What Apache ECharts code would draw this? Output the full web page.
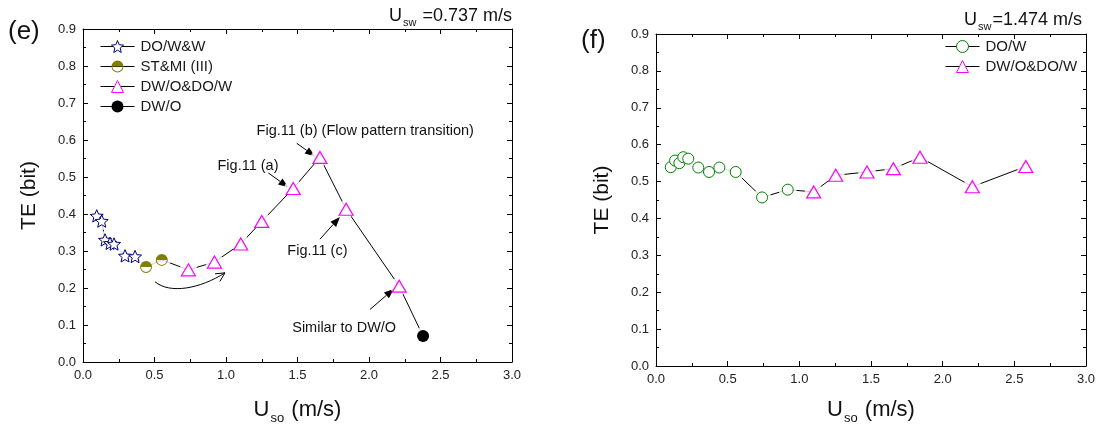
<!DOCTYPE html>
<html>
<head>
<meta charset="utf-8">
<style>
  html, body { margin: 0; padding: 0; background: #fff; }
  #chart { width: 1102px; height: 430px; }
</style>
<script src="https://cdn.jsdelivr.net/npm/echarts@6/dist/echarts.min.js"></script>
</head>
<body>
<div id="chart"></div>
<script>
// ---- (e) U_sw = 0.737 m/s ----
const eStarX = [0.096, 0.131, 0.154, 0.189, 0.217, 0.294, 0.364];
const eStarY = [0.395, 0.381, 0.330, 0.321, 0.319, 0.287, 0.285];
const eSemiX = [0.441, 0.551];
const eSemiY = [0.257, 0.276];
const eTriX = [0.737, 0.919, 1.103, 1.250, 1.470, 1.657, 1.840, 2.211];
const eTriY = [0.249, 0.270, 0.319, 0.380, 0.469, 0.553, 0.413, 0.205];
const eDwoX = [2.378];
const eDwoY = [0.070];

// ---- (f) U_sw = 1.474 m/s ----
const fCircX = [0.103, 0.133, 0.163, 0.190, 0.225, 0.295, 0.370, 0.442, 0.556, 0.740, 0.919];
const fCircY = [0.539, 0.557, 0.550, 0.566, 0.562, 0.538, 0.526, 0.538, 0.526, 0.457, 0.478];
const fTriX = [1.100, 1.254, 1.472, 1.656, 1.842, 2.207, 2.580];
const fTriY = [0.472, 0.517, 0.526, 0.535, 0.566, 0.486, 0.541];

const xTicks = [0, 0.5, 1.0, 1.5, 2.0, 2.5, 3.0];
const yTicks = [0, 0.1, 0.2, 0.3, 0.4, 0.5, 0.6, 0.7, 0.8, 0.9];

const legendE = ['DO/W&W', 'ST&MI (III)', 'DW/O&DO/W', 'DW/O'];
const legendF = ['DO/W', 'DW/O&DO/W'];

const FONT = 'Liberation Sans, Arial, Helvetica, sans-serif';
const STAR = 'path://M0,-10 L2.645,-3.641 L9.511,-3.090 L4.280,1.391 L5.878,8.090 L0,4.5 L-5.878,8.090 L-4.280,1.391 L-9.511,-3.090 L-2.645,-3.641 Z';
// ring plus filled upper half
const HALF_UP = 'path://M-10,0 A10,10 0 1,1 10,0 A10,10 0 1,1 -10,0 Z M-8.4,0 A8.4,8.4 0 1,0 8.4,0 A8.4,8.4 0 1,0 -8.4,0 Z M-8.4,0 A8.4,8.4 0 0,1 8.4,0 Z';

const zip = (xs, ys) => xs.map((x, i) => [x, ys[i]]);

function xAxes(grid, gap) {
  const base = {
    type: 'value', gridIndex: grid, min: xTicks[0], max: xTicks[xTicks.length - 1],
    interval: xTicks[1] - xTicks[0],
    axisLine: { onZero: false, lineStyle: { color: '#000', width: 1 } },
    axisTick: { inside: true, length: 5, lineStyle: { color: '#000' } },
    minorTick: { show: true, splitNumber: 2, length: 3, lineStyle: { color: '#000' } },
    splitLine: { show: false }, minorSplitLine: { show: false }
  };
  return [
    Object.assign({}, base, {
      position: 'bottom',
      axisLabel: { margin: 7, fontSize: 13, color: '#222', fontFamily: FONT, formatter: v => v.toFixed(1) },
      name: '{u|U}{s|so}{m| (m/s)}', nameLocation: 'middle', nameGap: gap,
      nameTextStyle: {
        fontFamily: FONT, color: '#111',
        rich: {
          u: { fontSize: 22, fontFamily: FONT, color: '#111', verticalAlign: 'top' },
          s: { fontSize: 13, fontFamily: FONT, color: '#111', verticalAlign: 'top', padding: [13, 1, 0, 1] },
          m: { fontSize: 22, fontFamily: FONT, color: '#111', verticalAlign: 'top' }
        }
      }
    }),
    Object.assign({}, base, { position: 'top', axisLabel: { show: false } })
  ];
}

function yAxes(grid) {
  const base = {
    type: 'value', gridIndex: grid, min: yTicks[0], max: yTicks[yTicks.length - 1],
    interval: 0.1,
    axisLine: { onZero: false, lineStyle: { color: '#000', width: 1 } },
    axisTick: { inside: true, length: 5, lineStyle: { color: '#000' } },
    minorTick: { show: true, splitNumber: 2, length: 3, lineStyle: { color: '#000' } },
    splitLine: { show: false }, minorSplitLine: { show: false }
  };
  return [
    Object.assign({}, base, {
      position: 'left',
      axisLabel: { margin: 7, fontSize: 13, color: '#222', fontFamily: FONT, formatter: v => v.toFixed(1) },
      name: 'TE (bit)', nameLocation: 'middle', nameGap: 43, nameRotate: 90,
      nameTextStyle: { fontSize: 21, fontFamily: FONT, color: '#111' }
    }),
    Object.assign({}, base, { position: 'right', axisLabel: { show: false } })
  ];
}

const legendBase = {
  orient: 'vertical', itemWidth: 34, itemHeight: 15, itemGap: 5, padding: 0,
  textStyle: { fontSize: 15, fontFamily: FONT, color: '#1a1a1a', padding: [0, 0, 0, 1] },
  lineStyle: { color: '#000', width: 1, opacity: 1 },
  itemStyle: { borderWidth: 1 },
  selectedMode: false
};

function markerSeries(name, xi, yi, xs, ys, symbol, size, style) {
  return {
    name: name, type: 'line', xAxisIndex: xi, yAxisIndex: yi,
    data: zip(xs, ys), symbol: symbol, symbolSize: size, symbolKeepAspect: true,
    showAllSymbol: true, lineStyle: { opacity: 0 }, itemStyle: style, z: 4, animation: false
  };
}
function pathSeries(xi, yi, pts) {
  return {
    type: 'line', xAxisIndex: xi, yAxisIndex: yi, data: pts, symbol: 'none',
    lineStyle: { color: '#000', width: 1 }, z: 1, silent: true, animation: false
  };
}
function haloSeries(xi, yi, pts) {
  return {
    type: 'scatter', xAxisIndex: xi, yAxisIndex: yi, data: pts, symbol: 'circle', symbolSize: 18,
    itemStyle: { color: '#fff' }, z: 2, silent: true, animation: false
  };
}

const ePts = zip(eStarX, eStarY).concat(zip(eSemiX, eSemiY), zip(eTriX, eTriY), zip(eDwoX, eDwoY));
const fPts = zip(fCircX, fCircY).concat(zip(fTriX, fTriY));

const option = {
  animation: false,
  backgroundColor: '#fff',
  grid: [
    { left: 83, top: 29, width: 429, height: 337 },
    { left: 656, top: 34, width: 430, height: 335 }
  ],
  xAxis: xAxes(0, 37).concat(xAxes(1, 33)),
  yAxis: yAxes(0).concat(yAxes(1)),
  legend: [
    Object.assign({}, legendBase, { left: 100, top: 39, data: legendE }),
    Object.assign({}, legendBase, { left: 945, top: 39, data: legendF })
  ],
  series: [
    pathSeries(0, 0, ePts),
    haloSeries(0, 0, ePts),
    markerSeries('DO/W&W', 0, 0, eStarX, eStarY, STAR, 13, { color: '#fff', borderColor: '#000080', borderWidth: 1 }),
    markerSeries('ST&MI (III)', 0, 0, eSemiX, eSemiY, HALF_UP, 12, { color: '#808000', borderWidth: 0 }),
    markerSeries('DW/O&DO/W', 0, 0, eTriX, eTriY, 'triangle', [14, 12], { color: '#fff', borderColor: '#ff00ff', borderWidth: 1.2 }),
    markerSeries('DW/O', 0, 0, eDwoX, eDwoY, 'circle', 12, { color: '#000', borderWidth: 0 }),

    pathSeries(2, 2, fPts),
    haloSeries(2, 2, fPts),
    markerSeries('DO/W', 2, 2, fCircX, fCircY, 'circle', 11, { color: '#fff', borderColor: '#008000', borderWidth: 1 }),
    markerSeries('DW/O&DO/W', 2, 2, fTriX, fTriY, 'triangle', [14, 12], { color: '#fff', borderColor: '#ff00ff', borderWidth: 1.2 })
  ]
};

const chart = echarts.init(document.getElementById('chart'), null, { renderer: 'canvas' });
chart.setOption(option);

// ---- annotations (positions given in data units of panel e) ----
const px = (x, y) => chart.convertToPixel({ xAxisIndex: 0, yAxisIndex: 0 }, [x, y]);

function arrowTo(tail, tip) {
  const a = px(tail[0], tail[1]), b = px(tip[0], tip[1]);
  const dx = b[0] - a[0], dy = b[1] - a[1], len = Math.hypot(dx, dy);
  const ux = dx / len, uy = dy / len, hl = 10, hw = 3.8;
  const bx = b[0] - ux * hl, by = b[1] - uy * hl;
  return [
    { type: 'line', shape: { x1: a[0], y1: a[1], x2: bx, y2: by }, style: { stroke: '#000', lineWidth: 1 }, silent: true },
    { type: 'polygon', shape: { points: [[b[0], b[1]], [bx - uy * hw, by + ux * hw], [bx + uy * hw, by - ux * hw]] }, style: { fill: '#000' }, silent: true }
  ];
}

function note(text, at, align) {
  const p = px(at[0], at[1]);
  return {
    type: 'text', x: p[0], y: p[1], silent: true,
    style: { text: text, fontSize: 14.5, fontFamily: FONT, fill: '#111', align: align || 'left', verticalAlign: 'middle' }
  };
}

const c0 = px(0.503, 0.217), c1 = px(0.608, 0.183), c2 = px(0.818, 0.198), c3 = px(0.993, 0.241);
const tdx = c3[0] - c2[0], tdy = c3[1] - c2[1], tl = Math.hypot(tdx, tdy);
const tux = tdx / tl, tuy = tdy / tl, ah = 9, aw = 4.5;
const head = [
  [c3[0] - tux * ah - tuy * aw, c3[1] - tuy * ah + tux * aw],
  [c3[0], c3[1]],
  [c3[0] - tux * ah + tuy * aw, c3[1] - tuy * ah - tux * aw]
];

const subStyle = (t1, t2, t3) => ({
  text: '{u|' + t1 + '}{s|' + t2 + '}{m|' + t3 + '}',
  fontFamily: FONT, fill: '#111', align: 'right', verticalAlign: 'top',
  rich: {
    u: { fontSize: 18, fontFamily: FONT, fill: '#111', verticalAlign: 'top' },
    s: { fontSize: 11, fontFamily: FONT, fill: '#111', verticalAlign: 'top', padding: [10, 1, 0, 1] },
    m: { fontSize: 18, fontFamily: FONT, fill: '#111', verticalAlign: 'top' }
  }
});

chart.setOption({
  graphic: [
    { type: 'text', x: 8, y: 19, silent: true, style: { text: '(e)', fontSize: 26, fontFamily: FONT, fill: '#111' } },
    { type: 'text', x: 581, y: 28, silent: true, style: { text: '(f)', fontSize: 26, fontFamily: FONT, fill: '#111' } },
    { type: 'text', x: 512, y: 7, silent: true, style: subStyle('U', 'sw', ' =0.737 m/s') },
    { type: 'text', x: 1082, y: 11, silent: true, style: subStyle('U', 'sw', '=1.474 m/s') },
    note('Fig.11 (b) (Flow pattern transition)', [1.214, 0.625]),
    note('Fig.11 (a)', [1.367, 0.530], 'right'),
    note('Fig.11 (c)', [1.429, 0.299]),
    note('Similar to DW/O', [1.463, 0.092])
  ].concat(
    arrowTo([1.495, 0.591], [1.622, 0.556]),
    arrowTo([1.296, 0.511], [1.436, 0.472]),
    arrowTo([1.657, 0.332], [1.797, 0.392]),
    arrowTo([2.007, 0.142], [2.175, 0.198]),
    [
      { type: 'bezierCurve', silent: true,
        shape: { x1: c0[0], y1: c0[1], cpx1: c1[0], cpy1: c1[1], cpx2: c2[0], cpy2: c2[1], x2: c3[0], y2: c3[1] },
        style: { stroke: '#000', lineWidth: 1, fill: null } },
      { type: 'polyline', silent: true, shape: { points: head }, style: { stroke: '#000', lineWidth: 1, fill: null } }
    ]
  )
});
</script>
</body>
</html>
